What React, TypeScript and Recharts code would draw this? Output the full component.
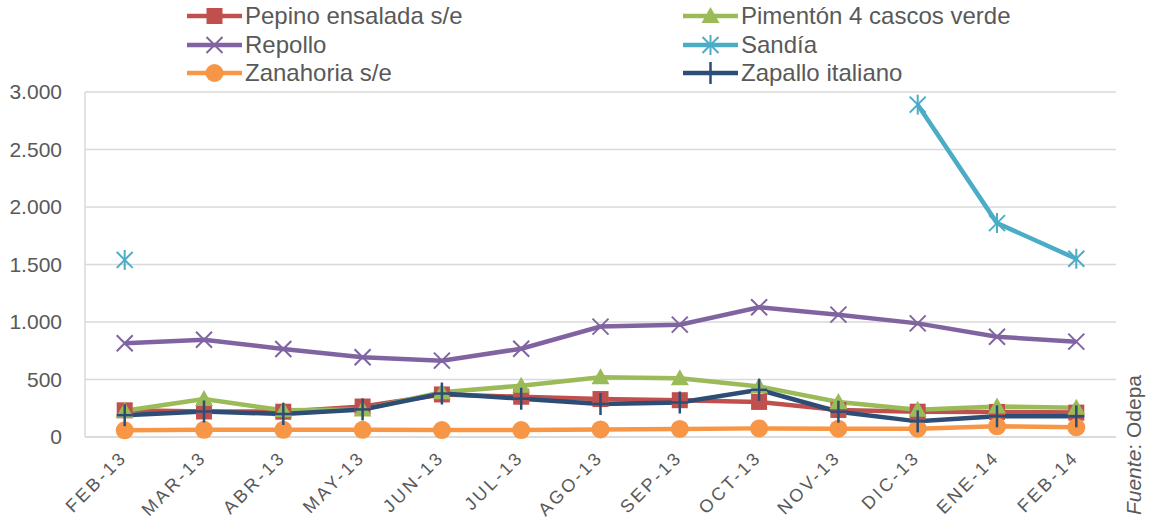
import React from 'react';
import { LineChart, Line, XAxis, YAxis, CartesianGrid, Legend } from 'recharts';

const months = ['FEB-13', 'MAR-13', 'ABR-13', 'MAY-13', 'JUN-13', 'JUL-13', 'AGO-13', 'SEP-13', 'OCT-13', 'NOV-13', 'DIC-13', 'ENE-14', 'FEB-14'];
const pepino = [232, 222, 220, 265, 370, 350, 330, 320, 305, 235, 220, 218, 212];
const pimenton = [228, 330, 232, 240, 390, 446, 519, 510, 440, 305, 238, 265, 255];
const repollo = [815, 846, 765, 693, 664, 768, 960, 977, 1128, 1064, 988, 872, 829];
const sandia: (number | null)[] = [1540, null, null, null, null, null, null, null, null, null, 2890, 1860, 1550];
const zanahoria = [58, 62, 62, 62, 60, 60, 66, 70, 75, 72, 72, 93, 84];
const zapallo = [190, 222, 200, 240, 378, 333, 287, 300, 410, 220, 136, 180, 180];
const yTicks = [0, 500, 1000, 1500, 2000, 2500, 3000];

const data = months.map((m, i) => ({
  month: m,
  pepino: pepino[i],
  pimenton: pimenton[i],
  repollo: repollo[i],
  sandia: sandia[i],
  zanahoria: zanahoria[i],
  zapallo: zapallo[i],
}));

type Shape = 'square' | 'triangle' | 'x' | 'star' | 'circle' | 'plus';

const series: { key: string; name: string; color: string; shape: Shape }[] = [
  { key: 'pepino', name: 'Pepino ensalada s/e', color: '#C0504D', shape: 'square' },
  { key: 'pimenton', name: 'Pimentón 4 cascos verde', color: '#9BBB59', shape: 'triangle' },
  { key: 'repollo', name: 'Repollo', color: '#8064A2', shape: 'x' },
  { key: 'sandia', name: 'Sandía', color: '#4BACC6', shape: 'star' },
  { key: 'zanahoria', name: 'Zanahoria s/e', color: '#F79646', shape: 'circle' },
  { key: 'zapallo', name: 'Zapallo italiano', color: '#2C4D75', shape: 'plus' },
];

const FONT = '"Liberation Sans", Arial, sans-serif';
const TEXT = '#595959';

function Marker({ cx, cy, shape, color }: { cx: number; cy: number; shape: Shape; color: string }) {
  switch (shape) {
    case 'square':
      return <rect x={cx - 8} y={cy - 8} width={16} height={16} fill={color} />;
    case 'triangle':
      return <polygon points={`${cx},${cy - 9} ${cx + 9},${cy + 7} ${cx - 9},${cy + 7}`} fill={color} />;
    case 'x':
      return (
        <g stroke={color} strokeWidth={2}>
          <line x1={cx - 8} y1={cy - 8} x2={cx + 8} y2={cy + 8} />
          <line x1={cx - 8} y1={cy + 8} x2={cx + 8} y2={cy - 8} />
        </g>
      );
    case 'star':
      return (
        <g stroke={color} strokeWidth={2}>
          <line x1={cx - 8} y1={cy - 8} x2={cx + 8} y2={cy + 8} />
          <line x1={cx - 8} y1={cy + 8} x2={cx + 8} y2={cy - 8} />
          <line x1={cx} y1={cy - 10} x2={cx} y2={cy + 10} />
        </g>
      );
    case 'circle':
      return <circle cx={cx} cy={cy} r={9} fill={color} />;
    case 'plus':
    default:
      return (
        <g stroke={color} strokeWidth={2.5}>
          <line x1={cx} y1={cy - 11} x2={cx} y2={cy + 11} />
          <line x1={cx - 8} y1={cy} x2={cx + 8} y2={cy} />
        </g>
      );
  }
}

const makeDot = (shape: Shape, color: string) => (props: any) => {
  const { cx, cy, index, value } = props;
  if (cx == null || cy == null || value == null) return <g key={`d-${shape}-${index}`} />;
  return (
    <g key={`d-${shape}-${index}`}>
      <Marker cx={cx} cy={cy} shape={shape} color={color} />
    </g>
  );
};

const fmt = (v: number) => String(v).replace(/\B(?=(\d{3})+(?!\d))/g, '.');

const XTick = (props: any) => {
  const { x, y, payload } = props;
  const tx = x - 1;
  const ty = y + 9;
  return (
    <text
      x={tx}
      y={ty}
      dy="0.35em"
      textAnchor="end"
      transform={`rotate(-45, ${tx}, ${ty})`}
      fill={TEXT}
      fontSize={18}
      letterSpacing={2.8}
      fontFamily={FONT}
    >
      {payload.value}
    </text>
  );
};

const LegendContent = (props: any) => {
  const payload = props.payload || [];
  const colX = [187, 683];
  const rowY = [16, 45, 73];
  return (
    <svg width={1152} height={92} style={{ display: 'block' }}>
      {payload.map((item: any, i: number) => {
        const s = series.find((ss) => ss.key === item.dataKey) || series[i];
        const x = colX[i % 2];
        const y = rowY[Math.floor(i / 2)];
        return (
          <g key={s.key}>
            <line x1={x} y1={y} x2={x + 55} y2={y} stroke={s.color} strokeWidth={4.5} />
            <Marker cx={x + 27.5} cy={y} shape={s.shape} color={s.color} />
            <text x={x + 58} y={y} dy="0.35em" fontSize={24} fill={TEXT} fontFamily={FONT}>
              {s.name}
            </text>
          </g>
        );
      })}
    </svg>
  );
};

export default function App() {
  return (
    <div style={{ position: 'absolute', left: 0, top: 0, width: 1152, height: 525, background: '#fff' }}>
      <LineChart
        width={1152}
        height={525}
        data={data}
        margin={{ top: 92, right: 36, bottom: 0, left: 0 }}
        style={{ fontFamily: FONT }}
      >
        <CartesianGrid vertical={false} stroke="#D9D9D9" strokeWidth={1.5} />
        <XAxis
          dataKey="month"
          height={88}
          interval={0}
          padding={{ left: 39.7, right: 39.7 }}
          axisLine={{ stroke: '#D9D9D9', strokeWidth: 1.5 }}
          tickLine={false}
          tick={<XTick />}
        />
        <YAxis
          width={85}
          domain={[0, 3000]}
          ticks={yTicks}
          tickFormatter={fmt}
          axisLine={{ stroke: '#D9D9D9', strokeWidth: 1.5 }}
          tickLine={false}
          tickMargin={17}
          tick={{ fill: TEXT, fontSize: 21, fontFamily: FONT }}
        />
        <Legend
          layout="horizontal"
          verticalAlign="middle"
          align="center"
          wrapperStyle={{ top: 0, left: 0, width: 1152, height: 92 }}
          content={<LegendContent />}
        />
        {series.map((s) => (
          <Line
            key={s.key}
            type="linear"
            dataKey={s.key}
            name={s.name}
            stroke={s.color}
            strokeWidth={4.5}
            dot={makeDot(s.shape, s.color)}
            activeDot={false}
            connectNulls={false}
            isAnimationActive={false}
          />
        ))}
      </LineChart>
      <div
        style={{
          position: 'absolute',
          left: 1134,
          top: 445,
          transform: 'translate(-50%, -50%) rotate(-90deg)',
          whiteSpace: 'nowrap',
          fontFamily: FONT,
          fontSize: 21,
          color: TEXT,
        }}
      >
        <i>Fuente</i>: Odepa
      </div>
    </div>
  );
}
